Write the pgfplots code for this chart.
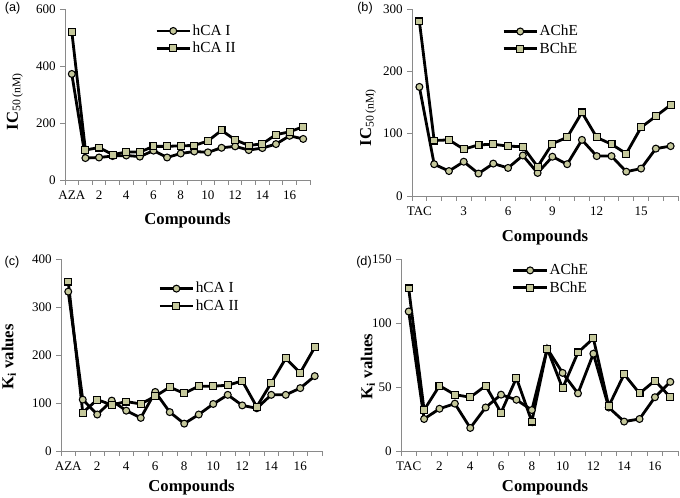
\documentclass[border=0pt]{standalone}
\usepackage{pgfplots}
\pgfplotsset{compat=1.18}
\usepackage{fontspec}
\setmainfont{Liberation Serif}
\newfontfamily\panelfont{Liberation Sans}
\definecolor{mkfill}{HTML}{C5C89B}
\definecolor{axgray}{HTML}{8A8A8A}
\pgfplotsset{
  panel/.style={
    scale only axis, anchor=south west,
    axis lines=left, axis line style={-, axgray, line width=0.7pt},
    tick style={axgray, line width=0.7pt}, tick align=outside,
    major tick length=3.5pt,
    xmin=-0.5, xmax=17.5, xtick={-0.5,0.5,...,17.5}, xticklabels={},
    ymin=0,
    tick label style={font=\fontsize{9.8}{11}\selectfont, black},
    /pgf/number format/assume math mode=true,
    label style={font=\fontsize{12.5}{14}\selectfont\bfseries},
    extra x tick style={major tick length=0pt, xticklabel style={yshift=-4.5pt}},
    legend style={draw=none, fill=none, font=\fontsize{11.5}{13}\selectfont,
      anchor=north west, row sep=3.5pt, inner sep=0pt,
      nodes={inner xsep=1pt, inner ysep=0pt}},
    legend cell align=left,
    legend image code/.code={\draw[mark repeat=2,mark phase=2] plot coordinates {(0pt,0pt)(12.5pt,0pt)(25pt,0pt)};},
    clip=false,
  },
  s1/.style={black, line width=2.1pt, mark=*, mark size=2.6pt, mark options={solid, fill=mkfill, draw=black, line width=0.8pt}},
  s2/.style={black, line width=2.1pt, mark=square*, mark size=2.6pt, mark options={solid, fill=mkfill, draw=black, line width=0.8pt}},
}
\pgfplotstableread{
x a1 a2
0 372 520
1 77 105
2 79 114
3 84 89
4 86 98
5 82 98
6 103 118
7 79 118
8 93 120
9 100 121
10 97 137
11 113 174
12 118 141
13 105 121
14 112 127
15 126 159
16 155 169
17 144 187
}\tabA
\pgfplotstableread{
x b1 b2
0 175 280
1 51 89
2 40 90
3 55 75
4 36 82
5 52 83
6 45 80
7 65 79
8 37 47
9 63 84
10 51 94
11 90 134
12 64 94
13 64 83
14 39 68
15 44 110
16 76 128
17 80 146
}\tabB
\pgfplotstableread{
x c1 c2
0 332 353
1 107 80
2 76 107
3 105 96
4 84 103
5 69 98
6 123 114
7 81 133
8 57 120
9 76 135
10 98 135
11 117 137
12 95 146
13 89 92
14 117 142
15 117 193
16 131 163
17 156 216
}\tabC
\pgfplotstableread{
x d1 d2
0 109 127
1 25 32
2 33 51
3 37 44
4 18 42
5 34 51
6 44 30
7 40 57
8 32 23
9 80 80
10 61 49
11 45 77
12 76 88
13 34 35
14 23 60
15 25 45
16 42 55
17 54 42
}\tabD
\begin{document}
\begin{tikzpicture}
% (a)
\begin{axis}[panel, at={(48.75pt,238.5pt)}, width=183.75pt, height=128.25pt,
  ymax=600, ytick={0,200,400,600},
  extra x ticks={0,2,4,6,8,10,12,14,16},
  extra x tick labels={AZA,2,4,6,8,10,12,14,16},
  xlabel={Compounds},
  ylabel={IC\textsubscript{\normalfont 50 (nM)}},
  xlabel style={at={(axis description cs:0.5,-0.235)}, anchor=center},
  ylabel style={at={(axis description cs:-0.205,0.46)}, anchor=center},
  legend style={at={(axis description cs:0.367,0.91)}}]
\addplot[s1] table[x=x,y=a1] {\tabA};
\addplot[s2] table[x=x,y=a2] {\tabA};
\legend{hCA I,hCA II}
\end{axis}
% (b)
\begin{axis}[panel, at={(309pt,226.5pt)}, width=199.5pt, height=140.25pt,
  ymax=300, ytick={0,100,200,300},
  extra x ticks={0,3,6,9,12,15},
  extra x tick labels={TAC,3,6,9,12,15},
  xlabel={Compounds},
  ylabel={IC\textsubscript{\normalfont 50 (nM)}},
  xlabel style={at={(axis description cs:0.5,-0.22)}, anchor=center},
  ylabel style={at={(axis description cs:-0.165,0.42)}, anchor=center},
  legend style={at={(axis description cs:0.338,0.915)}}]
\addplot[s1] table[x=x,y=b1] {\tabB};
\addplot[s2] table[x=x,y=b2] {\tabB};
\legend{AChE,BChE}
\end{axis}
% (c)
\begin{axis}[panel, at={(45.75pt,35.25pt)}, width=195.75pt, height=144pt,
  ymax=400, ytick={0,100,200,300,400},
  extra x ticks={0,2,4,6,8,10,12,14,16},
  extra x tick labels={AZA,2,4,6,8,10,12,14,16},
  xlabel={Compounds},
  ylabel={K\textsubscript{i} values},
  xlabel style={at={(axis description cs:0.5,-0.19)}, anchor=center},
  ylabel style={at={(axis description cs:-0.2,0.49)}, anchor=center},
  legend style={at={(axis description cs:0.372,0.88)}}]
\addplot[s1] table[x=x,y=c1] {\tabC};
\addplot[s2] table[x=x,y=c2] {\tabC};
\legend{hCA I,hCA II}
\end{axis}
% (d)
\begin{axis}[panel, at={(300.75pt,35.25pt)}, width=207.75pt, height=144pt,
  ymax=150, ytick={0,50,100,150},
  extra x ticks={0,2,4,6,8,10,12,14,16},
  extra x tick labels={TAC,2,4,6,8,10,12,14,16},
  xlabel={Compounds},
  ylabel={K\textsubscript{i} values},
  xlabel style={at={(axis description cs:0.52,-0.19)}, anchor=center},
  ylabel style={at={(axis description cs:-0.12,0.44)}, anchor=center},
  legend style={at={(axis description cs:0.40,0.975)}}]
\addplot[s1] table[x=x,y=d1] {\tabD};
\addplot[s2] table[x=x,y=d2] {\tabD};
\legend{AChE,BChE}
\end{axis}
\node[font=\panelfont\fontsize{9.5}{11}\selectfont] at (9.4pt,367.5pt) {(a)};
\node[font=\panelfont\fontsize{9.5}{11}\selectfont] at (273.75pt,367.5pt) {(b)};
\node[font=\panelfont\fontsize{9.5}{11}\selectfont] at (9pt,177pt) {(c)};
\node[font=\panelfont\fontsize{9.5}{11}\selectfont] at (273pt,177pt) {(d)};
\pgfresetboundingbox
\path[use as bounding box] (0,0) rectangle (510pt,373.5pt);
\end{tikzpicture}
\end{document}
